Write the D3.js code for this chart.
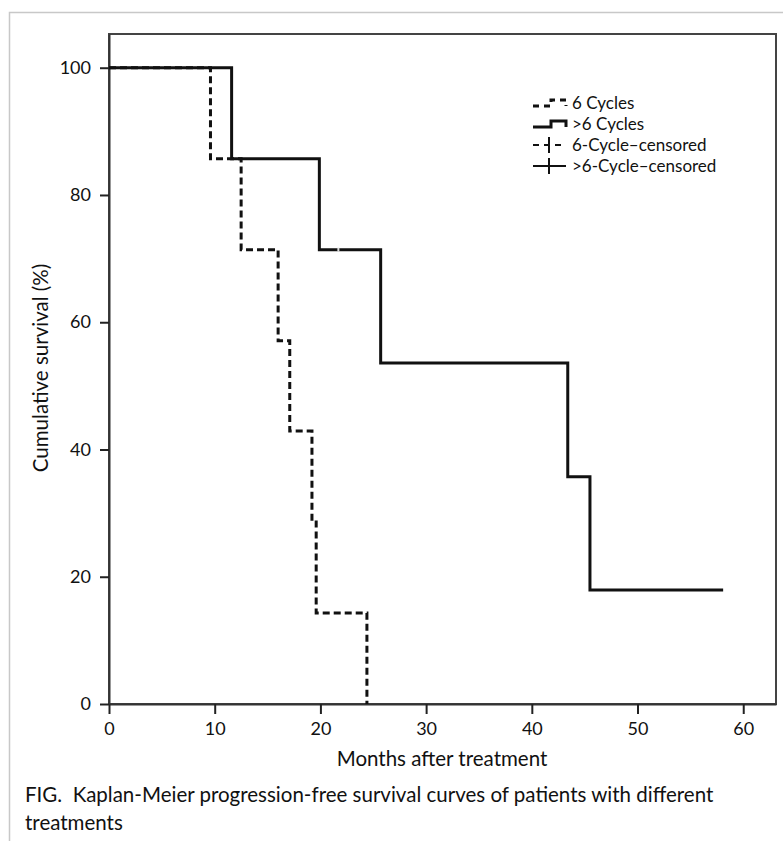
<!DOCTYPE html>
<html>
<head>
<meta charset="utf-8">
<title>Kaplan-Meier PFS</title>
<script src="https://d3js.org/d3.v7.min.js"></script>
<style>
  body { margin: 0; background: #fff; }
  svg text { font-family: Lato, "Open Sans", sans-serif; fill: #111; }
</style>
</head>
<body>
<div id="chart"></div>
<script>
// step curves (months, cumulative survival %)
var sixTimes = [0, 9.6, 12.5, 16.0, 17.1, 19.2, 19.6, 24.4];
var sixSurv  = [100, 85.7, 71.4, 57.1, 42.9, 28.6, 14.3, 0];
var moreTimes = [0, 11.6, 19.9, 25.7, 43.4, 45.5, 58.1];
var moreSurv  = [100, 85.7, 71.4, 53.6, 35.7, 17.9, 17.9];
var moreCensorTimes = [21.7];
var moreCensorSurv  = [71.4];
var xTicks = [0, 10, 20, 30, 40, 50, 60];
var yTicks = [0, 20, 40, 60, 80, 100];
var legendLabels = ["6 Cycles", ">6 Cycles", "6-Cycle\u2013censored", ">6-Cycle\u2013censored"];

var W = 783, H = 841;
var svg = d3.select("#chart").append("svg")
    .attr("width", W)
    .attr("height", H);

// outer light frame
svg.append("path")
    .attr("d", "M9.5," + H + " V12.5 H" + W)
    .attr("fill", "none")
    .attr("stroke", "#c8c8c8")
    .attr("stroke-width", 1.5);

var x = d3.scaleLinear().domain([0, 63.1]).range([109, 776]);
var y = d3.scaleLinear().domain([0, 105.3]).range([704, 34]);

// plot box
svg.append("rect")
    .attr("x", x(0)).attr("y", y(105.3))
    .attr("width", x(63.1) - x(0))
    .attr("height", y(0) - y(105.3))
    .attr("fill", "none")
    .attr("stroke", "#444")
    .attr("stroke-width", 2);

// axes
var xAxis = svg.append("g")
    .attr("transform", "translate(0," + y(0) + ")")
    .call(d3.axisBottom(x).tickValues(xTicks).tickSize(10).tickSizeOuter(0).tickPadding(8).tickFormat(d3.format("d")));
var yAxis = svg.append("g")
    .attr("transform", "translate(" + x(0) + ",0)")
    .call(d3.axisLeft(y).tickValues(yTicks).tickSize(9).tickSizeOuter(0).tickPadding(9).tickFormat(d3.format("d")));
[xAxis, yAxis].forEach(function(a) {
  a.select(".domain").attr("stroke", "#333").attr("stroke-width", 2);
  a.selectAll(".tick line").attr("stroke", "#222").attr("stroke-width", 2);
  a.selectAll(".tick text").style("font-size", "18px").attr("fill", "#111");
});

svg.append("text")
    .attr("x", 442).attr("y", 766)
    .attr("text-anchor", "middle")
    .style("font-size", "20.5px")
    .text("Months after treatment");

svg.append("text")
    .attr("transform", "translate(48,368) rotate(-90)")
    .attr("text-anchor", "middle")
    .style("font-size", "20.5px")
    .text("Cumulative survival (%)");

// curves
var line = d3.line()
    .x(function(d) { return x(d[0]); })
    .y(function(d) { return y(d[1]); })
    .curve(d3.curveStepAfter);

svg.append("path")
    .datum(d3.zip(moreTimes, moreSurv))
    .attr("fill", "none")
    .attr("stroke", "#111")
    .attr("stroke-width", 3)
    .attr("d", line);

svg.append("path")
    .datum(d3.zip(sixTimes, sixSurv))
    .attr("fill", "none")
    .attr("stroke", "#111")
    .attr("stroke-width", 3)
    .attr("stroke-dasharray", "7,4")
    .attr("d", line);

// censored marks (faint in the original)
svg.selectAll("line.cens")
    .data(d3.zip(moreCensorTimes, moreCensorSurv))
    .enter().append("line")
    .attr("class", "cens")
    .attr("x1", function(d) { return x(d[0]); })
    .attr("x2", function(d) { return x(d[0]); })
    .attr("y1", function(d) { return y(d[1]) - 2; })
    .attr("y2", function(d) { return y(d[1]) + 2; })
    .attr("stroke", "#ddd")
    .attr("stroke-width", 2);

// legend
var lx = 533, ly = 103, lstep = 21;
var leg = svg.append("g");
legendLabels.forEach(function(lab, i) {
  var cy = ly + i * lstep;
  var g = leg.append("g");
  if (i < 2) {
    g.append("path")
      .attr("d", "M" + lx + "," + (cy + 3) + " H" + (lx + 18) + " V" + (cy - 3) + " H" + (lx + 33) + " V" + (cy + 3))
      .attr("fill", "none")
      .attr("stroke", "#111")
      .attr("stroke-width", 3)
      .attr("stroke-dasharray", i == 0 ? "6,5" : null);
  } else {
    g.append("line")
      .attr("x1", lx).attr("x2", lx + 33)
      .attr("y1", cy).attr("y2", cy)
      .attr("stroke", "#111")
      .attr("stroke-width", 2)
      .attr("stroke-dasharray", i == 2 ? "6,5" : null);
    g.append("line")
      .attr("x1", lx + 16).attr("x2", lx + 16)
      .attr("y1", cy - 8).attr("y2", cy + 8)
      .attr("stroke", "#111")
      .attr("stroke-width", 2);
  }
  g.append("text")
    .attr("x", lx + 39).attr("y", cy + 6)
    .style("font-size", "17px")
    .text(lab);
});

// caption
svg.append("text")
    .attr("x", 25).attr("y", 802)
    .style("font-size", "20.5px")
    .text("FIG.\u00a0 Kaplan-Meier progression-free survival curves of patients with different");
svg.append("text")
    .attr("x", 25).attr("y", 830)
    .style("font-size", "20.5px")
    .text("treatments");
</script>
</body>
</html>
